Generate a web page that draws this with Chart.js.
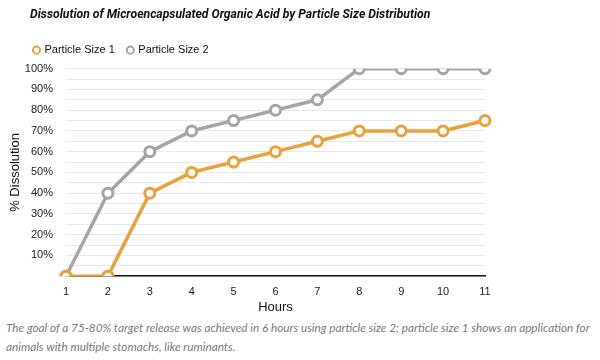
<!DOCTYPE html>
<html>
<head>
<meta charset="utf-8">
<script src="https://cdn.jsdelivr.net/npm/chart.js@4"></script>
<style>
  body { margin: 0; background: #fff; }
  #wrap { position: relative; width: 600px; height: 315px; }
  .caption { margin: 0; padding: 3px 0 0 6px; white-space: nowrap; font-family: Lato, "Open Sans", sans-serif; font-style: italic; font-size: 11.75px; line-height: 19px; color: #7a7a7a; }
</style>
</head>
<body>
<div id="wrap"><canvas id="myChart"></canvas></div>
<p class="caption">The goal of a 75-80% target release was achieved in 6 hours using particle size 2; particle size 1 shows an application for<br>animals with multiple stomachs, like ruminants.</p>
<script>
const hours = ['1', '2', '3', '4', '5', '6', '7', '8', '9', '10', '11'];
const size1 = [0, 0, 40, 50, 55, 60, 65, 70, 70, 70, 75];
const size2 = [0, 40, 60, 70, 75, 80, 85, 100, 100, 100, 100];

const ctx = document.getElementById("myChart").getContext("2d");

const baseFont = "'Liberation Sans', Arial, sans-serif";

// nudge title and legend to where the original graphic has them
const shiftHeader = {
    id: "shiftHeader",
    afterLayout(chart) {
        chart.titleBlock.left = 30;
        chart.legend.left = 21;
        chart.legend.top -= 3;
    }
};

const data = {
    labels: hours,
    datasets: [
        {
            label: "Particle Size 1",
            data: size1,
            borderColor: "#E9A23B",
            backgroundColor: "#ffffff",
            borderWidth: 3.5,
            pointRadius: 5,
            pointBorderWidth: 3,
            pointBackgroundColor: "#ffffff",
            order: 1,
        },
        {
            label: "Particle Size 2",
            data: size2,
            borderColor: "#A5A5A5",
            backgroundColor: "#ffffff",
            borderWidth: 3.5,
            pointRadius: 5,
            pointBorderWidth: 3,
            pointBackgroundColor: "#ffffff",
            order: 2,
        }
    ],
};

const config = {
    type: "line",
    data: data,
    plugins: [shiftHeader],
    options: {
        responsive: true,
        maintainAspectRatio: false,
        animation: false,
        layout: { padding: { left: 8, right: 115, top: 0, bottom: 0 } },
        scales: {
            x: {
                grid: { display: false },
                border: { display: true, color: "#111", width: 1.5 },
                ticks: { color: "#222", font: { family: baseFont, size: 11 }, padding: 1 },
                title: { display: true, text: "Hours", color: "#111", font: { family: baseFont, size: 13 }, padding: { top: 0, bottom: 0 } },
            },
            y: {
                min: 0,
                max: 100,
                afterFit: function(scale) { scale.width = 58; },
                grid: { color: "#e8e8e8", drawTicks: false },
                border: { display: false },
                ticks: {
                    stepSize: 5,
                    autoSkip: false,
                    color: "#222",
                    padding: 13,
                    font: { family: baseFont, size: 11 },
                    callback: function(value) {
                        return (value > 0 && value % 10 === 0) ? value + "%" : "";
                    }
                },
                title: { display: true, text: "% Dissolution", color: "#111", font: { family: baseFont, size: 13 }, padding: { top: 0, bottom: 2 } },
            },
        },
        plugins: {
            title: {
                display: true,
                text: "Dissolution of Microencapsulated Organic Acid by Particle Size Distribution",
                align: "start",
                color: "#111",
                font: { family: "Roboto, 'Liberation Sans', sans-serif", size: 12.2, weight: "bold", style: "italic" },
                padding: { top: 8, bottom: 12 },
            },
            legend: {
                align: "start",
                labels: {
                    usePointStyle: true,
                    pointStyle: "circle",
                    boxWidth: 5,
                    boxHeight: 5,
                    color: "#111",
                    font: { family: baseFont, size: 11 },
                    padding: 13,
                    generateLabels: function(chart) {
                        const items = Chart.defaults.plugins.legend.labels.generateLabels(chart);
                        items.forEach(function(it) { it.lineWidth = 2; });
                        return items;
                    }
                },
            },
            tooltip: { enabled: false },
        }
    },
};

new Chart(ctx, config);
</script>
</body>
</html>
